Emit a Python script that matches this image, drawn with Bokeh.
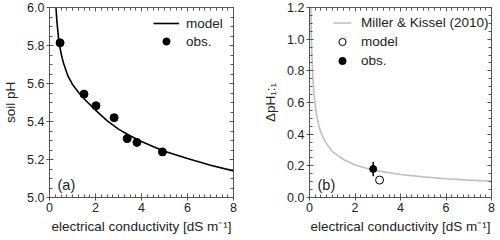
from bokeh.plotting import figure
from bokeh.models import (Range1d, LinearAxis, Legend, LegendItem, Label,
                          FixedTicker, Whisker, ColumnDataSource, NumeralTickFormatter)
from bokeh.layouts import row
from bokeh.embed import file_html
from bokeh.resources import INLINE

# ---- data (panel a) ----
model_a_x = [0.28, 0.32, 0.4, 0.5, 0.6, 0.8, 1.0, 1.25, 1.5, 2.0, 2.5, 3.0, 3.5, 4.0, 4.5, 5.0, 6.0, 7.0, 8.0]
model_a_y = [6.0, 5.93, 5.83, 5.76, 5.71, 5.64, 5.595, 5.555, 5.52, 5.46, 5.405, 5.36, 5.325, 5.295, 5.268, 5.243, 5.205, 5.17, 5.14]
obs_a_x = [0.46, 1.5, 2.02, 2.81, 3.38, 3.8, 4.91]
obs_a_y = [5.814, 5.544, 5.483, 5.42, 5.31, 5.29, 5.24]

# ---- data (panel b) ----
mk_x = [0.06, 0.08, 0.1, 0.15, 0.2, 0.3, 0.4, 0.5, 0.7, 1.0, 1.5, 2.0, 2.5, 3.0, 4.0, 5.0, 6.0, 7.0, 8.0]
mk_y = [1.2, 1.03, 0.92, 0.75, 0.65, 0.53, 0.46, 0.41, 0.35, 0.29, 0.24, 0.205, 0.185, 0.168, 0.145, 0.13, 0.118, 0.11, 0.103]
model_b_x = [3.08]
model_b_y = [0.11]
obs_b_x = [2.8]
obs_b_y = [0.18]
obs_b_err = [0.045]

x_major = [0, 2, 4, 6, 8]
x_minor = [i * 0.25 for i in range(33)]
ya_major = [5.0, 5.2, 5.4, 5.6, 5.8, 6.0]
ya_minor = [5.0 + i * 0.05 for i in range(21)]
yb_major = [0.0, 0.2, 0.4, 0.6, 0.8, 1.0, 1.2]
yb_minor = [i * 0.05 for i in range(25)]

FONT = "Liberation Sans"
AX = "#555555"
TXT = "#222222"
XLABEL = "electrical conductivity [dS m\u207b\u00b9]"


def base_style(ax):
    ax.axis_line_color = AX
    ax.major_tick_line_color = AX
    ax.minor_tick_line_color = AX
    ax.major_label_text_font = FONT
    ax.major_label_text_font_size = "12.5px"
    ax.major_label_text_color = TXT
    ax.axis_label_text_font = FONT
    ax.axis_label_text_font_size = "13.5px"
    ax.axis_label_text_font_style = "normal"
    ax.axis_label_text_color = TXT


def labelled_axis(label, major, minor, fmt):
    ax = LinearAxis(axis_label=label)
    base_style(ax)
    ax.ticker = FixedTicker(ticks=major, minor_ticks=minor)
    ax.formatter = NumeralTickFormatter(format=fmt)
    ax.major_tick_in = 4
    ax.major_tick_out = 3
    ax.minor_tick_in = 3
    ax.minor_tick_out = 0
    ax.major_label_standoff = 2
    return ax


def tick_only_axis(ticks, length):
    # only minor ticks -> no labels drawn
    ax = LinearAxis()
    base_style(ax)
    ax.ticker = FixedTicker(ticks=[], minor_ticks=ticks)
    ax.major_tick_in = 0
    ax.major_tick_out = 0
    ax.minor_tick_in = length
    ax.minor_tick_out = 0
    ax.major_label_standoff = 0
    return ax


def make_fig(width, yr, ymaj, ymin, yfmt, bl, br, ylabel):
    p = figure(width=width, height=236, output_backend="svg", toolbar_location=None,
               x_range=Range1d(0, 8), y_range=yr,
               min_border_left=bl, min_border_right=br, min_border_top=7, min_border_bottom=39,
               x_axis_location=None, y_axis_location=None)
    p.grid.visible = False
    p.outline_line_color = None
    p.background_fill_color = "white"
    bx = labelled_axis(XLABEL, x_major, x_minor, "0")
    bx.axis_label_standoff = 4
    p.add_layout(bx, "below")
    ly = labelled_axis(ylabel, ymaj, ymin, yfmt)
    ly.axis_label_standoff = 6
    p.add_layout(ly, "left")
    p.add_layout(tick_only_axis(x_minor, 3), "above")
    p.add_layout(tick_only_axis(x_major, 4), "above")
    p.add_layout(tick_only_axis(ymin, 3), "right")
    p.add_layout(tick_only_axis(ymaj, 4), "right")
    return p


# ---- panel a ----
pa = make_fig(250, Range1d(5.0, 6.0), ya_major, ya_minor, "0.0", 46, 17, "soil pH")
la = pa.line(model_a_x, model_a_y, line_color="black", line_width=1.6)
sa = pa.scatter(obs_a_x, obs_a_y, size=8, fill_color="black", line_color="black")
leg_a = Legend(items=[LegendItem(label="model", renderers=[la]),
                      LegendItem(label="obs.", renderers=[sa])],
               location=(104, 147), border_line_color=None, background_fill_alpha=0,
               label_text_font=FONT, label_text_font_size="13.5px", label_text_color=TXT,
               glyph_width=26, glyph_height=18, label_height=18, spacing=0,
               padding=0, margin=0, label_standoff=7)
pa.add_layout(leg_a)
pa.add_layout(Label(x=8, y=5, x_units="screen", y_units="screen", text="(a)",
                    text_font=FONT, text_font_size="14.5px", text_color=TXT))

# ---- panel b ----
pb = make_fig(250, Range1d(0.0, 1.2), yb_major, yb_minor, "0.0", 59, 9, "\u0394pH\u2081:\u2081")
lb = pb.line(mk_x, mk_y, line_color="#c0c0c0", line_width=1.6)
src_obs = ColumnDataSource(dict(x=obs_b_x, y=obs_b_y,
                                lo=[v - e for v, e in zip(obs_b_y, obs_b_err)],
                                hi=[v + e for v, e in zip(obs_b_y, obs_b_err)]))
pb.add_layout(Whisker(base="x", lower="lo", upper="hi", source=src_obs,
                      line_color="black", line_width=1.5,
                      upper_head=None, lower_head=None))
mb = pb.scatter(model_b_x, model_b_y, size=8, fill_color="white", line_color="black", line_width=1)
ob = pb.scatter("x", "y", source=src_obs, size=7, fill_color="black", line_color="black")
leg_b = Legend(items=[LegendItem(label="Miller & Kissel (2010)", renderers=[lb]),
                      LegendItem(label="model", renderers=[mb]),
                      LegendItem(label="obs.", renderers=[ob])],
               location=(24, 127), border_line_color=None, background_fill_alpha=0,
               label_text_font=FONT, label_text_font_size="13.5px", label_text_color=TXT,
               glyph_width=18, glyph_height=19, label_height=19, spacing=0,
               padding=0, margin=0, label_standoff=10)
pb.add_layout(leg_b)
pb.add_layout(Label(x=8, y=5, x_units="screen", y_units="screen", text="(b)",
                    text_font=FONT, text_font_size="14.5px", text_color=TXT))

layout = row(pa, pb)
open("out.html", "w").write(file_html(layout, INLINE))
